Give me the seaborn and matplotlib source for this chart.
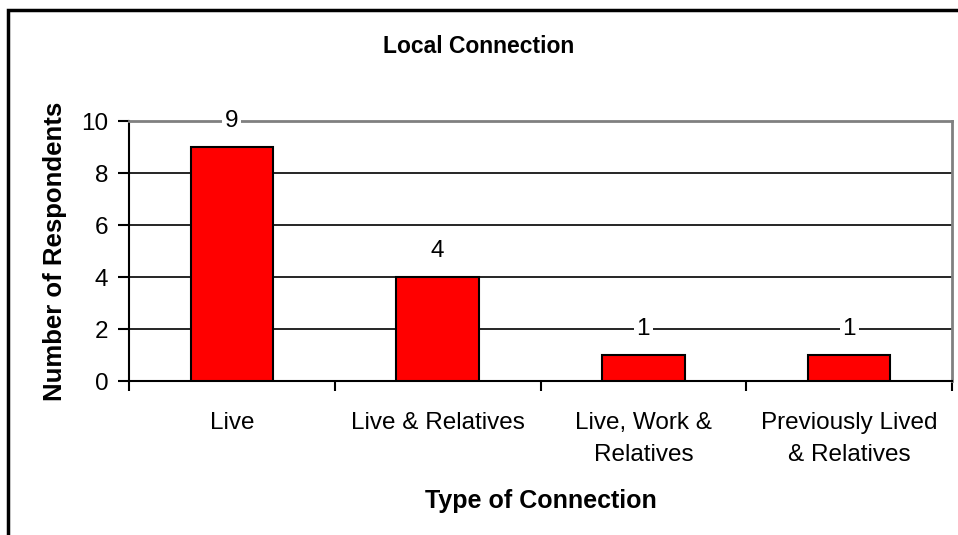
import matplotlib
matplotlib.use("Agg")
import matplotlib.pyplot as plt
import matplotlib.patches as mpatches
from matplotlib.ticker import FixedLocator
import seaborn as sns
import pandas as pd

categories = ["Live", "Live & Relatives", "Live, Work &\nRelatives", "Previously Lived\n& Relatives"]
values = [9, 4, 1, 1]
yticks = [0, 2, 4, 6, 8, 10]
title = "Local Connection"
xlabel = "Type of Connection"
ylabel = "Number of Respondents"

sns.set_style("white")
plt.rcParams['font.family'] = ['Liberation Sans', 'DejaVu Sans']
plt.rcParams['text.color'] = 'black'
plt.rcParams['axes.labelcolor'] = 'black'
plt.rcParams['xtick.color'] = 'black'
plt.rcParams['ytick.color'] = 'black'

df = pd.DataFrame({"cat": categories, "val": values})

fig = plt.figure(figsize=(9.58, 5.35), dpi=100)
ax = fig.add_axes([129/958, 1-381/535, (952-129)/958, (381-121)/535])

sns.barplot(data=df, x="cat", y="val", color="#FF0000", saturation=1,
            edgecolor="black", linewidth=1.5, width=0.4, ax=ax, zorder=3)

ax.set_ylim(0, 10)
ax.set_xlim(-0.5, len(categories) - 0.5)
ax.set_yticks(yticks)
ax.yaxis.grid(True, color="black", linewidth=1.2, zorder=0)
ax.set_axisbelow(True)

for s in ["left", "bottom"]:
    ax.spines[s].set_color("black")
    ax.spines[s].set_linewidth(1.5)
for s in ["top", "right"]:
    ax.spines[s].set_color("#808080")
    ax.spines[s].set_linewidth(2)

ax.tick_params(axis="y", direction="out", length=8, width=1.5, color="black",
               labelsize=17.5, labelcolor="black", pad=7, left=True)
ax.tick_params(axis="x", which="major", length=0, labelsize=17.5, labelcolor="black", pad=22)
ax.xaxis.set_minor_locator(FixedLocator([i - 0.5 for i in range(len(categories) + 1)]))
ax.tick_params(axis="x", which="minor", direction="out", length=7, width=1.5,
               color="black", bottom=True)
for lbl in ax.get_xticklabels():
    lbl.set_linespacing(1.6)

for i, v in enumerate(values):
    ax.text(i, v + 1, str(v), ha="center", va="center", fontsize=17.5, color="black",
            bbox=dict(facecolor="white", edgecolor="none", pad=2), zorder=4)

ax.set_xlabel(xlabel, fontsize=18, fontweight="bold", va="center", color="black")
ax.xaxis.set_label_coords(0.5, (381-501)/260)
ax.set_ylabel(ylabel, fontsize=18.5, fontweight="bold", va="center", color="black")
ax.yaxis.set_label_coords((55-129)/823, 0.5)

fig.text(0.4995, 1-47/535, title, ha="center", va="center", fontsize=16.5,
         fontweight="bold", color="black")

border = mpatches.Rectangle((8/958, -0.1), 1.2, 1 - 10/535 + 0.1, transform=fig.transFigure,
                            fill=False, edgecolor="black", linewidth=2.5, clip_on=False)
fig.patches.append(border)

fig.savefig("out.png", dpi=100)
